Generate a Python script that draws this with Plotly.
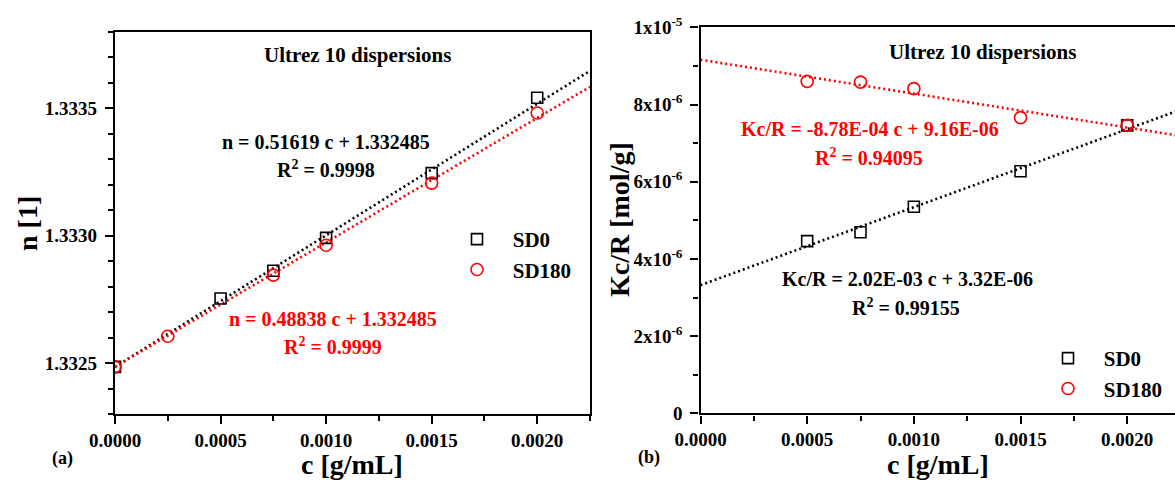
import plotly.graph_objects as go

# ---- data -------------------------------------------------------------
# (a) refractive index vs concentration
c_sd0_a = [0.0, 0.0005, 0.00075, 0.0010, 0.0015, 0.0020]
n_sd0 = [1.332485, 1.332753, 1.332862, 1.332991, 1.333245, 1.333541]
c_sd180_a = [0.0, 0.00025, 0.00075, 0.0010, 0.0015, 0.0020]
n_sd180 = [1.332485, 1.332605, 1.332845, 1.332962, 1.333206, 1.333481]

# (b) Kc/R vs concentration
c_b = [0.0005, 0.00075, 0.0010, 0.0015, 0.0020]
kcr_sd0 = [4.46e-6, 4.69e-6, 5.35e-6, 6.27e-6, 7.46e-6]
kcr_sd180 = [8.60e-6, 8.58e-6, 8.41e-6, 7.66e-6, 7.46e-6]

# linear fits (slope, intercept, R^2)
fit_a_sd0 = (0.51619, 1.332485, "0.9998")
fit_a_sd180 = (0.48838, 1.332485, "0.9999")
fit_b_sd0 = (2.02e-3, 3.32e-6, "0.99155")
fit_b_sd180 = (-8.78e-4, 9.16e-6, "0.94095")

fit_c = [0.0, 0.00225]

x_ticks = [0.0, 0.0005, 0.0010, 0.0015, 0.0020]
x_ticktext = ["0.0000", "0.0005", "0.0010", "0.0015", "0.0020"]
ya_ticks = [1.3325, 1.3330, 1.3335]
ya_ticktext = ["1.3325", "1.3330", "1.3335"]
yb_ticks = [0, 2e-6, 4e-6, 6e-6, 8e-6, 1e-5]
yb_ticktext = ["0", "2x10<sup>-6</sup>", "4x10<sup>-6</sup>", "6x10<sup>-6</sup>",
               "8x10<sup>-6</sup>", "1x10<sup>-5</sup>"]

# ---- style ------------------------------------------------------------
FONT = "Liberation Serif"
BLACK = "#000000"
RED = "#ff0000"
W, H = 1175, 481


def px_x(p):
    return p / W


def px_y(p):
    return 1 - p / H


fig = go.Figure()


def line_of(fit, xs):
    m, b, _ = fit
    return [m * x + b for x in xs]


def add_panel(xs0, ys0, xs1, ys1, f0, f1, xa, ya, legend):
    fig.add_trace(go.Scatter(x=fit_c, y=line_of(f0, fit_c), mode="lines",
                             line=dict(color=BLACK, width=2.6, dash="2px,3px"),
                             xaxis=xa, yaxis=ya, showlegend=False, hoverinfo="skip"))
    fig.add_trace(go.Scatter(x=fit_c, y=line_of(f1, fit_c), mode="lines",
                             line=dict(color=RED, width=2.6, dash="2px,3px"),
                             xaxis=xa, yaxis=ya, showlegend=False, hoverinfo="skip"))
    fig.add_trace(go.Scatter(x=xs0, y=ys0, mode="markers", name="\u00a0\u00a0\u00a0SD0",
                             marker=dict(symbol="square-open", size=11, color=BLACK,
                                         line=dict(width=1.6, color=BLACK)),
                             xaxis=xa, yaxis=ya, legend=legend))
    fig.add_trace(go.Scatter(x=xs1, y=ys1, mode="markers", name="\u00a0\u00a0\u00a0SD180",
                             marker=dict(symbol="circle-open", size=12, color=RED,
                                         line=dict(width=1.6, color=RED)),
                             xaxis=xa, yaxis=ya, legend=legend))


add_panel(c_sd0_a, n_sd0, c_sd180_a, n_sd180, fit_a_sd0, fit_a_sd180, "x", "y", "legend")
add_panel(c_b, kcr_sd0, c_b, kcr_sd180, fit_b_sd0, fit_b_sd180, "x2", "y2", "legend2")

tickfont = dict(family=FONT, size=19, color=BLACK, weight="bold")
base = dict(showgrid=False, zeroline=False, showline=True, linecolor=BLACK, linewidth=2.4,
            ticks="outside", ticklen=8, tickwidth=2, tickcolor=BLACK, tickfont=tickfont,
            automargin=False)
overlay = dict(showgrid=False, zeroline=False, showline=False, showticklabels=False,
               ticks="inside", tickwidth=2, tickcolor=BLACK, automargin=False)

xa_range = [0, 0.00225]
xb_range = [0, 0.002224]
ya_range = [1.3323, 1.3338]
yb_range = [0, 1e-5]

dom_xa = [px_x(115), px_x(590)]
dom_ya = [px_y(414), px_y(31.7)]
dom_xb = [px_x(700.5), 1.0]
dom_yb = [px_y(413.3), px_y(27.3)]

minor_x = dict(ticks="outside", ticklen=5, tickwidth=2, tickcolor=BLACK, dtick=0.00025, tick0=0)
minor_ya = dict(ticks="outside", ticklen=5, tickwidth=2, tickcolor=BLACK, dtick=0.0001, tick0=1.3323)
minor_yb = dict(ticks="outside", ticklen=5, tickwidth=2, tickcolor=BLACK, dtick=1e-6, tick0=0)

legend_font = dict(family=FONT, size=21, weight="bold")

fig.update_layout(
    xaxis=dict(base, domain=dom_xa, range=xa_range, anchor="y", mirror=True,
               tickvals=x_ticks, ticktext=x_ticktext, minor=minor_x),
    yaxis=dict(base, domain=dom_ya, range=ya_range, anchor="x", mirror=True,
               tickvals=ya_ticks, ticktext=ya_ticktext, ticklabelstandoff=4, minor=minor_ya),
    xaxis3=dict(overlay, overlaying="x", side="top", anchor="y", range=xa_range,
                ticklen=7, tickvals=x_ticks, minor=dict(minor_x, ticks="inside")),
    yaxis3=dict(overlay, overlaying="y", side="right", anchor="x", range=ya_range,
                ticklen=8, tickvals=ya_ticks, minor=dict(minor_ya, ticks="inside")),
    xaxis2=dict(base, domain=dom_xb, range=xb_range, anchor="y2", mirror=True,
                tickvals=x_ticks, ticktext=x_ticktext, minor=minor_x),
    yaxis2=dict(base, domain=dom_yb, range=yb_range, anchor="x2", mirror=False,
                tickvals=yb_ticks, ticktext=yb_ticktext, ticklabelstandoff=4, minor=minor_yb),
    xaxis4=dict(overlay, overlaying="x2", side="top", anchor="y2", range=xb_range,
                ticklen=7, tickvals=x_ticks, minor=dict(minor_x, ticks="inside")),
    yaxis4=dict(overlay, overlaying="y2", side="right", anchor="x2", range=yb_range,
                ticklen=8, tickvals=yb_ticks, minor=dict(minor_yb, ticks="inside")),
    width=W, height=H, margin=dict(l=0, r=0, t=0, b=0, pad=0, autoexpand=False),
    paper_bgcolor="white", plot_bgcolor="white",
    font=dict(family=FONT, color=BLACK, weight="bold"),
    legend=dict(x=px_x(457), y=px_y(219), xanchor="left", yanchor="top",
                bgcolor="rgba(0,0,0,0)", font=legend_font, itemwidth=30, tracegroupgap=0),
    legend2=dict(x=px_x(1048), y=px_y(338), xanchor="left", yanchor="top",
                 bgcolor="rgba(0,0,0,0)", font=legend_font, itemwidth=30, tracegroupgap=0),
)

EQ = 20


def note(text, x, y, size, color=BLACK, angle=0):
    fig.add_annotation(text=text, x=px_x(x), y=px_y(y), xref="paper", yref="paper",
                       showarrow=False, textangle=angle, xanchor="center", yanchor="middle",
                       font=dict(family=FONT, size=size, color=color, weight="bold"))


def eq_text(name, fit, fmt):
    m, b, _ = fit
    return f"{name} = {fmt(m)} c + {fmt(b)}"


def sci(v):
    return f"{v:.2E}"


def dec(v):
    return f"{v:g}" if v < 1 else f"{v:.6f}"


# panel (a) labels
note("Ultrez 10 dispersions", 357, 55, 21)
note(eq_text("n", fit_a_sd0, dec), 326, 142, EQ)
note(f"R<sup>2</sup> = {fit_a_sd0[2]}", 326, 169, EQ)
note(eq_text("n", fit_a_sd180, dec), 333, 319, EQ, RED)
note(f"R<sup>2</sup> = {fit_a_sd180[2]}", 333, 346, EQ, RED)
note("c [g/mL]", 352, 464, 28)
note("n [1]", 27, 224, 28, angle=-90)
note("(a)", 62, 458, 18)

# panel (b) labels
note("Ultrez 10 dispersions", 982, 52, 21)
note(eq_text("Kc/R", fit_b_sd180, sci), 870, 129, EQ, RED)
note(f"R<sup>2</sup> = {fit_b_sd180[2]}", 869, 157, EQ, RED)
note(eq_text("Kc/R", fit_b_sd0, sci), 907, 279, EQ)
note(f"R<sup>2</sup> = {fit_b_sd0[2]}", 906, 307, EQ)
note("c [g/mL]", 938, 464, 28)
note("Kc/R [mol/g]", 619, 220, 28, angle=-90)
note("(b)", 649, 457, 18)

fig.write_html("out.html")
